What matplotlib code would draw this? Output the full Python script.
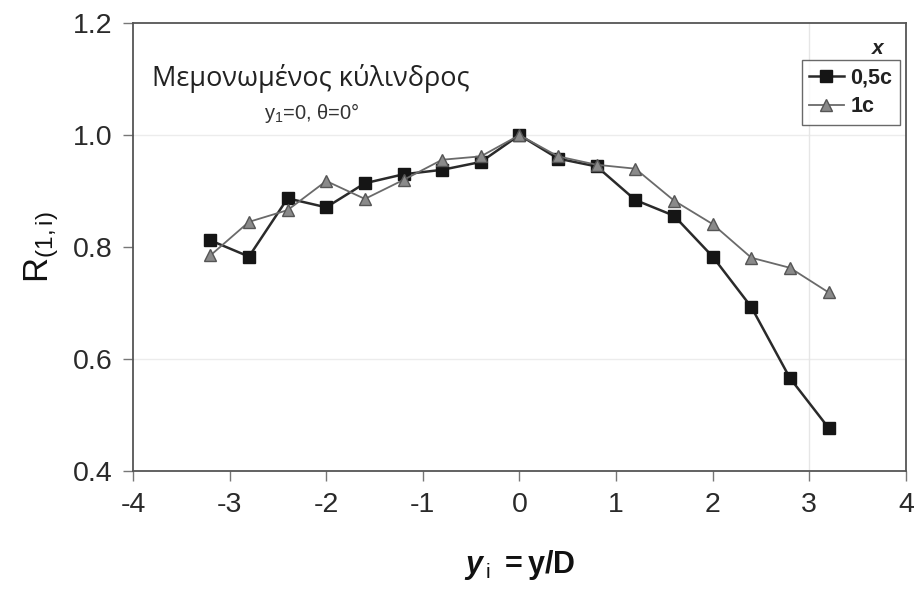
import matplotlib
matplotlib.use("Agg")
import matplotlib.pyplot as plt

plt.rcParams['font.family'] = ['Liberation Sans', 'DejaVu Sans']
plt.rcParams['mathtext.fontset'] = 'custom'
plt.rcParams['mathtext.rm'] = 'Liberation Sans'
plt.rcParams['mathtext.it'] = 'Liberation Sans:italic'
plt.rcParams['mathtext.bf'] = 'Liberation Sans:bold'
plt.rcParams['mathtext.bfit'] = 'Liberation Sans:italic:bold'

# Transverse positions y_i = y/D
y_pos = [-3.2, -2.8, -2.4, -2.0, -1.6, -1.2, -0.8, -0.4, 0.0,
         0.4, 0.8, 1.2, 1.6, 2.0, 2.4, 2.8, 3.2]

# Correlation coefficient R(1,i) at streamwise station x = 0.5c
r_05c = [0.812, 0.783, 0.887, 0.871, 0.914, 0.930, 0.938, 0.952, 1.0,
         0.958, 0.944, 0.884, 0.856, 0.783, 0.693, 0.566, 0.477]

# Correlation coefficient R(1,i) at streamwise station x = 1c
r_1c = [0.785, 0.845, 0.866, 0.918, 0.886, 0.920, 0.956, 0.962, 1.0,
        0.962, 0.947, 0.940, 0.883, 0.841, 0.781, 0.763, 0.719]

series_labels = ['0,5c', '1c']
x_ticks = [-4, -3, -2, -1, 0, 1, 2, 3, 4]
y_ticks = [0.4, 0.6, 0.8, 1.0, 1.2]

fig = plt.figure(figsize=(9.15, 5.93), dpi=100)
ax = fig.add_axes([0.1454, 0.2057, 0.8446, 0.7553])

ax.plot(y_pos, r_05c, color='#2a2a2a', lw=1.8, marker='s', ms=8.5,
        mfc='#151515', mec='#151515', label=series_labels[0], zorder=3)
ax.plot(y_pos, r_1c, color='#6a6a6a', lw=1.3, marker='^', ms=8.5,
        mfc='#8a8a8a', mec='#555555', label=series_labels[1], zorder=4)

ax.set_xlim(x_ticks[0], x_ticks[-1])
ax.set_ylim(y_ticks[0], y_ticks[-1])
ax.set_xticks(x_ticks)
ax.set_yticks(y_ticks)
ax.set_xticklabels([str(t) for t in x_ticks])
ax.set_yticklabels([f'{t:.1f}' for t in y_ticks])

ax.tick_params(axis='both', direction='out', length=7, width=1.0,
               color='#777777', labelsize=20.5, labelcolor='#2a2a2a', pad=8)
for side in ['left', 'bottom', 'top', 'right']:
    ax.spines[side].set_color('#555555')
    ax.spines[side].set_linewidth(1.3)

# faint reference lines
for yv in [0.6, 1.0]:
    ax.axhline(yv, color='#ececec', lw=1.0, zorder=0)
ax.axvline(3, color='#e6e6e6', lw=1.0, zorder=0)

ax.set_ylabel(r'R$_{\mathrm{(1,i)}}$', fontsize=25, color='#111111', labelpad=8)
ax.set_xlabel(r'$\mathbfit{y}_{\,\mathrm{i}}$$\mathbf{\ =y/D}$', fontsize=22,
              color='#111111', labelpad=22)

ax.text(0.025, 0.86, 'Μεμονωμένος κύλινδρος', transform=ax.transAxes,
        fontsize=19.5, family=['Open Sans', 'DejaVu Sans'], color='#222222')
ax.text(0.17, 0.785, r'y$_1$=0, θ=0°', transform=ax.transAxes,
        fontsize=14.5, color='#333333')

leg = ax.legend(loc='upper right', bbox_to_anchor=(0.992, 0.917),
                borderaxespad=0.0, frameon=True, fancybox=False,
                handlelength=1.6, handletextpad=0.3, borderpad=0.35,
                labelspacing=0.35, prop={'weight': 'bold', 'size': 15.5})
leg.get_frame().set_edgecolor('#444444')
leg.get_frame().set_linewidth(1.0)
for t in leg.get_texts():
    t.set_color('#222222')
ax.text(0.963, 0.944, 'x', transform=ax.transAxes, fontsize=15,
        fontweight='bold', fontstyle='italic', ha='center', va='center',
        color='#222222')

fig.savefig('out.png', dpi=100, facecolor='white')
